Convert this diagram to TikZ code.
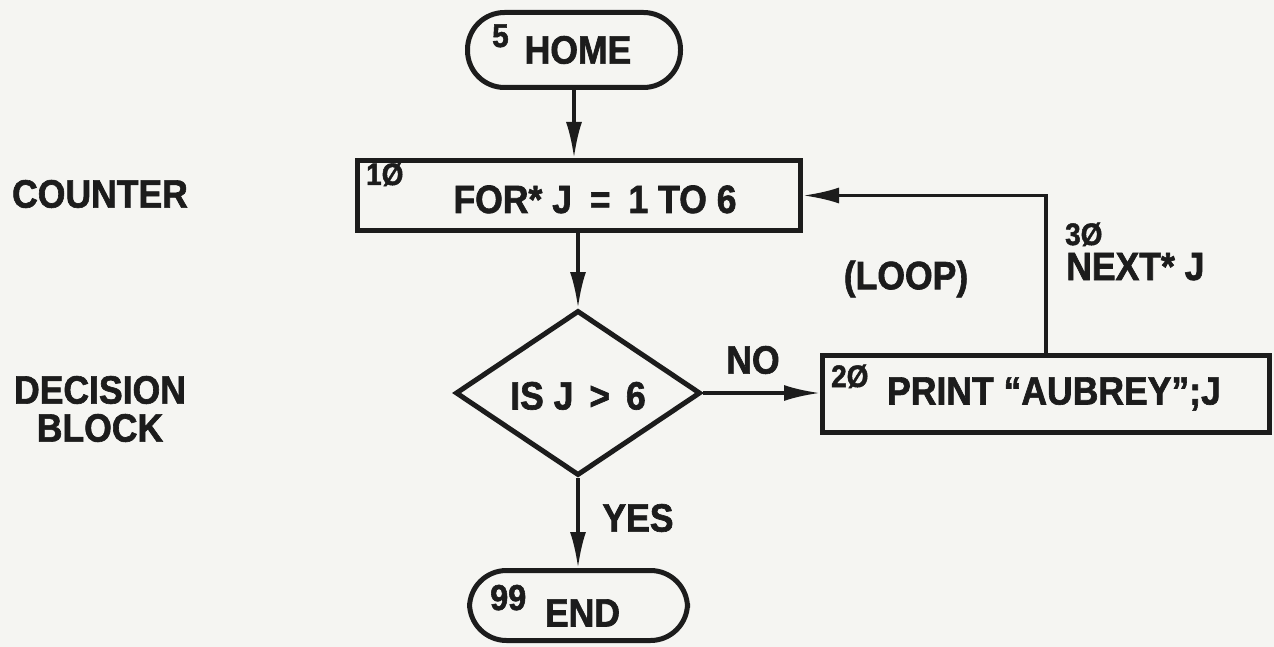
\documentclass[tikz,border=0pt]{standalone}
\usepackage{fontspec}
\setmainfont{Liberation Sans}[FakeStretch=0.9, BoldFeatures={FakeBold=1.6}]
\usetikzlibrary{shapes.geometric,arrows.meta}
\definecolor{ink}{RGB}{28,28,28}
\definecolor{paper}{RGB}{245,245,242}
\newcommand\bigf{\bfseries\fontsize{39.5}{38}\selectfont}
\newcommand\smnum{\bfseries\fontsize{31}{31}\selectfont}
\tikzset{
  every node/.style={text=ink, font=\bigf, inner sep=0pt},
  boxst/.style={draw=ink, line width=5pt, rectangle},
  term/.style={boxst, rounded corners=37pt},
  decis/.style={draw=ink, line width=5pt, diamond, aspect=1.48},
  conn/.style={draw=ink, line width=3.5pt, -{Latex[length=36pt,width=16pt]}},
  numlab/.style={font=\smnum, anchor=base west},
}
\begin{document}
\begin{tikzpicture}[x=1pt,y=-1pt]
\fill[paper] (0,0) rectangle (1274,647);
\useasboundingbox (0,0) rectangle (1274,647);

% shapes
\node[term, minimum width=213pt, minimum height=75pt] (home) at (574,50) {\hspace{8pt}HOME};
\node[boxst, minimum width=443pt, minimum height=70pt, text height=35pt, text depth=0pt] (for) at (579,195.5)
  {\hspace{32pt}FOR* J\hspace{8pt} = \hspace{8pt}1 TO 6};
\node[decis, minimum width=245pt, minimum height=165pt, text height=33pt, text depth=0pt] (dia) at (578,393)
  {IS J\hspace{6pt} > \hspace{6pt}6\hspace{13pt}};
\node[boxst, minimum width=447pt, minimum height=77pt] (print) at (1046,394)
  {\hspace{16pt}PRINT “AUBREY”;J};
\node[term, minimum width=218pt, minimum height=70pt, text height=42pt, text depth=0pt] (end) at (578.5,605.5)
  {\hspace{8pt}END};

% line numbers
\node[font=\bfseries\fontsize{33}{33}\selectfont, anchor=base west] (n5) at (492,47) {5};
\node[font=\bfseries\fontsize{36}{36}\selectfont, anchor=base west] (n99) at (490,610) {99};
\node[numlab] (n10) at (366,185) {1Ø};
\node[numlab] (n20) at (831,387) {2Ø};
\node[numlab] (n30) at (1065,245) {3Ø};
\node[anchor=base west] (nextj) at (1066,280) {NEXT* J};

% side labels
\node (counter) at (100,194) {COUNTER};
\node[align=center] (decblock) at (100,409) {DECISION\\BLOCK};
\node (no) at (753,360) {NO};
\node (yes) at (638,518) {YES};
\node (loop) at (906,279) {(LOOP)};

% connectors
\draw[conn] (home.south) -- (home.south |- for.north);
\draw[conn] (dia.north |- for.south) -- (dia.north);
\draw[conn] (dia.east) -- (dia.east -| print.west);
\draw[conn] (print.north) |- (for.east);
\draw[conn] (dia.south) -- (dia.south |- end.north);
\end{tikzpicture}
\end{document}
